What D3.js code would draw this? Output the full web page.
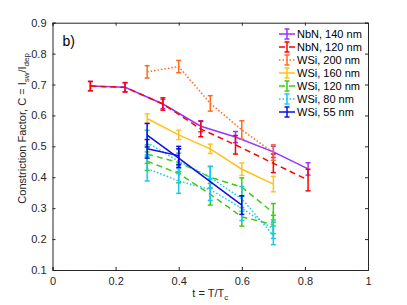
<!DOCTYPE html>
<html>
<head>
<meta charset="utf-8">
<script src="https://cdn.jsdelivr.net/npm/d3@7"></script>
<style>
	body { margin: 0; background: #fff; }
	svg { display: block; font-family: 'Liberation Sans', Arial, sans-serif; }
	.axis text { fill: #262626; font-size: 11px; }
	.axis path, .axis line { stroke: #262626; }
</style>
</head>
<body>
<div id="chart"></div>
<script>
// temperatures (t = T/Tc)
const tNbN = [0.12, 0.23, 0.35, 0.47, 0.58, 0.70, 0.81];
const tWSi = [0.3, 0.4, 0.5, 0.6, 0.7];
const tWSi55 = [0.3, 0.4, 0.6];
const tWSi55b = [0.3, 0.4];

// constriction factor values and error bars
const cNbN140 = [0.695, 0.691, 0.637, 0.565, 0.530, 0.482, 0.427];
const eNbN140 = [0.015, 0.015, 0.015, 0.018, 0.018, 0.018, 0.02];
const cNbN120 = [0.695, 0.691, 0.637, 0.556, 0.505, 0.445, 0.391];
const eNbN120 = [0.015, 0.015, 0.02, 0.025, 0.03, 0.03, 0.035];
const cWSi200 = [0.741, 0.758, 0.639, 0.553, 0.480];
const eWSi200 = [0.02, 0.02, 0.025, 0.03, 0.025];
const cWSi160 = [0.590, 0.537, 0.492, 0.426, 0.378];
const eWSi160 = [0.015, 0.015, 0.015, 0.02, 0.025];
const cWSi120 = [0.475, 0.448, 0.400, 0.368, 0.285];
const eWSi120 = [0.03, 0.03, 0.035, 0.03, 0.03];
const cWSi120b = [0.452, 0.412, 0.345, 0.272, 0.247];
const eWSi120b = [0.03, 0.03, 0.035, 0.03, 0.03];
const cWSi80 = [0.512, 0.452, 0.400, 0.330, 0.212];
const eWSi80 = [0.04, 0.04, 0.035, 0.04, 0.03];
const cWSi80b = [0.428, 0.388, 0.360, 0.300, 0.232];
const eWSi80b = [0.04, 0.04, 0.035, 0.04, 0.03];
const cWSi55 = [0.536, 0.462, 0.310];
const eWSi55 = [0.038, 0.03, 0.03];
const cWSi55b = [0.492, 0.470];
const eWSi55b = [0.03, 0.03];

const xTicks = [0, 0.2, 0.4, 0.6, 0.8, 1];
const yTicks = [0.1, 0.2, 0.3, 0.4, 0.5, 0.6, 0.7, 0.8, 0.9];

const zip = (t, c, e) => t.map((d, i) => ({ t: d, c: c[i], e: e[i] }));

const series = [
	{ name: 'NbN, 140 nm', color: '#9933ff', dash: null, runs: [zip(tNbN, cNbN140, eNbN140)] },
	{ name: 'NbN, 120 nm', color: '#ff0000', dash: '6,4', runs: [zip(tNbN, cNbN120, eNbN120)] },
	{ name: 'WSi, 200 nm', color: '#ff6a1a', dash: '1.5,2', runs: [zip(tWSi, cWSi200, eWSi200)] },
	{ name: 'WSi, 160 nm', color: '#ffc21a', dash: null, runs: [zip(tWSi, cWSi160, eWSi160)] },
	{ name: 'WSi, 120 nm', color: '#3ccc14', dash: '6,4', runs: [zip(tWSi, cWSi120, eWSi120), zip(tWSi, cWSi120b, eWSi120b)] },
	{ name: 'WSi, 80 nm', color: '#19c8f0', dash: '1.5,2', runs: [zip(tWSi, cWSi80, eWSi80), zip(tWSi, cWSi80b, eWSi80b)] },
	{ name: 'WSi, 55 nm', color: '#0d0de6', dash: null, runs: [zip(tWSi55, cWSi55, eWSi55), zip(tWSi55b, cWSi55b, eWSi55b)] }
];

// dimension stuff
const W = 407;
const H = 305;
const marginLeft = 52.5;
const marginRight = 39;
const marginTop = 22.7;
const marginBottom = 35;
const width = W - marginLeft - marginRight;
const height = H - marginTop - marginBottom;
const CAP = 2.5;

const scaleX = d3.scaleLinear().domain([0, 1]).range([0, width]);
const scaleY = d3.scaleLinear().domain([0.1, 0.9]).range([height, 0]);

const $svg = d3.select('#chart').append('svg')
	.attr('width', W)
	.attr('height', H);

const $g = $svg.append('g')
	.attr('transform', `translate(${marginLeft}, ${marginTop})`);

// axes, ticks pointing inward on all four sides
$g.append('g')
	.attr('class', 'axis')
	.attr('transform', `translate(0, ${height})`)
	.call(d3.axisBottom(scaleX).tickValues(xTicks).tickSize(-3).tickPadding(7).tickFormat(d3.format('')));
$g.append('g')
	.attr('class', 'axis')
	.call(d3.axisTop(scaleX).tickValues(xTicks).tickSize(-3).tickFormat(''));
$g.append('g')
	.attr('class', 'axis')
	.call(d3.axisLeft(scaleY).tickValues(yTicks).tickSize(-3).tickPadding(6).tickFormat(d3.format('.1f')));
$g.append('g')
	.attr('class', 'axis')
	.attr('transform', `translate(${width}, 0)`)
	.call(d3.axisRight(scaleY).tickValues(yTicks).tickSize(-3).tickFormat(''));

$g.selectAll('.axis .domain').attr('stroke-width', 1);

// data
const line = d3.line().x(d => scaleX(d.t)).y(d => scaleY(d.c));

const $vis = $g.append('g').attr('class', 'g-vis');

series.forEach(s => {
	const $s = $vis.append('g').attr('class', 'series');
	s.runs.forEach(run => {
		$s.append('path')
			.datum(run)
			.attr('d', line)
			.attr('fill', 'none')
			.attr('stroke', s.color)
			.attr('stroke-width', 1.5)
			.attr('stroke-dasharray', s.dash);

		const $bar = $s.selectAll(null)
			.data(run)
			.enter()
			.append('g')
			.attr('stroke', s.color)
			.attr('stroke-width', 1.5);
		$bar.append('line')
			.attr('x1', d => scaleX(d.t)).attr('x2', d => scaleX(d.t))
			.attr('y1', d => scaleY(d.c - d.e)).attr('y2', d => scaleY(d.c + d.e));
		$bar.append('line')
			.attr('x1', d => scaleX(d.t) - CAP).attr('x2', d => scaleX(d.t) + CAP)
			.attr('y1', d => scaleY(d.c + d.e)).attr('y2', d => scaleY(d.c + d.e));
		$bar.append('line')
			.attr('x1', d => scaleX(d.t) - CAP).attr('x2', d => scaleX(d.t) + CAP)
			.attr('y1', d => scaleY(d.c - d.e)).attr('y2', d => scaleY(d.c - d.e));
	});
});

// legend
const $legend = $g.append('g')
	.attr('transform', `translate(${279 - marginLeft}, ${34 - marginTop})`);
const $item = $legend.selectAll('g')
	.data(series)
	.enter()
	.append('g')
	.attr('transform', (d, i) => `translate(0, ${i * 13})`);
$item.append('line')
	.attr('x1', 0).attr('x2', 16)
	.attr('stroke', d => d.color)
	.attr('stroke-width', 1.5)
	.attr('stroke-dasharray', d => d.dash);
$item.append('line')
	.attr('x1', 8).attr('x2', 8).attr('y1', -5).attr('y2', 5)
	.attr('stroke', d => d.color).attr('stroke-width', 1.5);
$item.append('line')
	.attr('x1', 8 - CAP).attr('x2', 8 + CAP).attr('y1', -5).attr('y2', -5)
	.attr('stroke', d => d.color).attr('stroke-width', 1.5);
$item.append('line')
	.attr('x1', 8 - CAP).attr('x2', 8 + CAP).attr('y1', 5).attr('y2', 5)
	.attr('stroke', d => d.color).attr('stroke-width', 1.5);
$item.append('text')
	.attr('x', 18)
	.attr('dy', '0.35em')
	.attr('font-size', 11)
	.attr('fill', '#000')
	.text(d => d.name);

// panel label
$g.append('text')
	.attr('x', 10)
	.attr('y', 23)
	.attr('font-size', 14)
	.attr('fill', '#000')
	.text('b)');

// axis labels
const $yl = $svg.append('text')
	.attr('transform', `translate(26, ${marginTop + height / 2 - 18}) rotate(-90)`)
	.attr('text-anchor', 'middle')
	.attr('font-size', 11)
	.attr('fill', '#262626');
$yl.append('tspan').text('Constriction Factor, C = I');
$yl.append('tspan').attr('font-size', 8).attr('dy', 3).text('sw');
$yl.append('tspan').attr('dy', -3).text('/I');
$yl.append('tspan').attr('font-size', 8).attr('dy', 3).text('dep');

const $xl = $svg.append('text')
	.attr('x', marginLeft + width / 2)
	.attr('y', 297)
	.attr('text-anchor', 'middle')
	.attr('font-size', 11)
	.attr('fill', '#262626');
$xl.append('tspan').text('t = T/T');
$xl.append('tspan').attr('font-size', 8).attr('dy', 3).text('c');
</script>
</body>
</html>
